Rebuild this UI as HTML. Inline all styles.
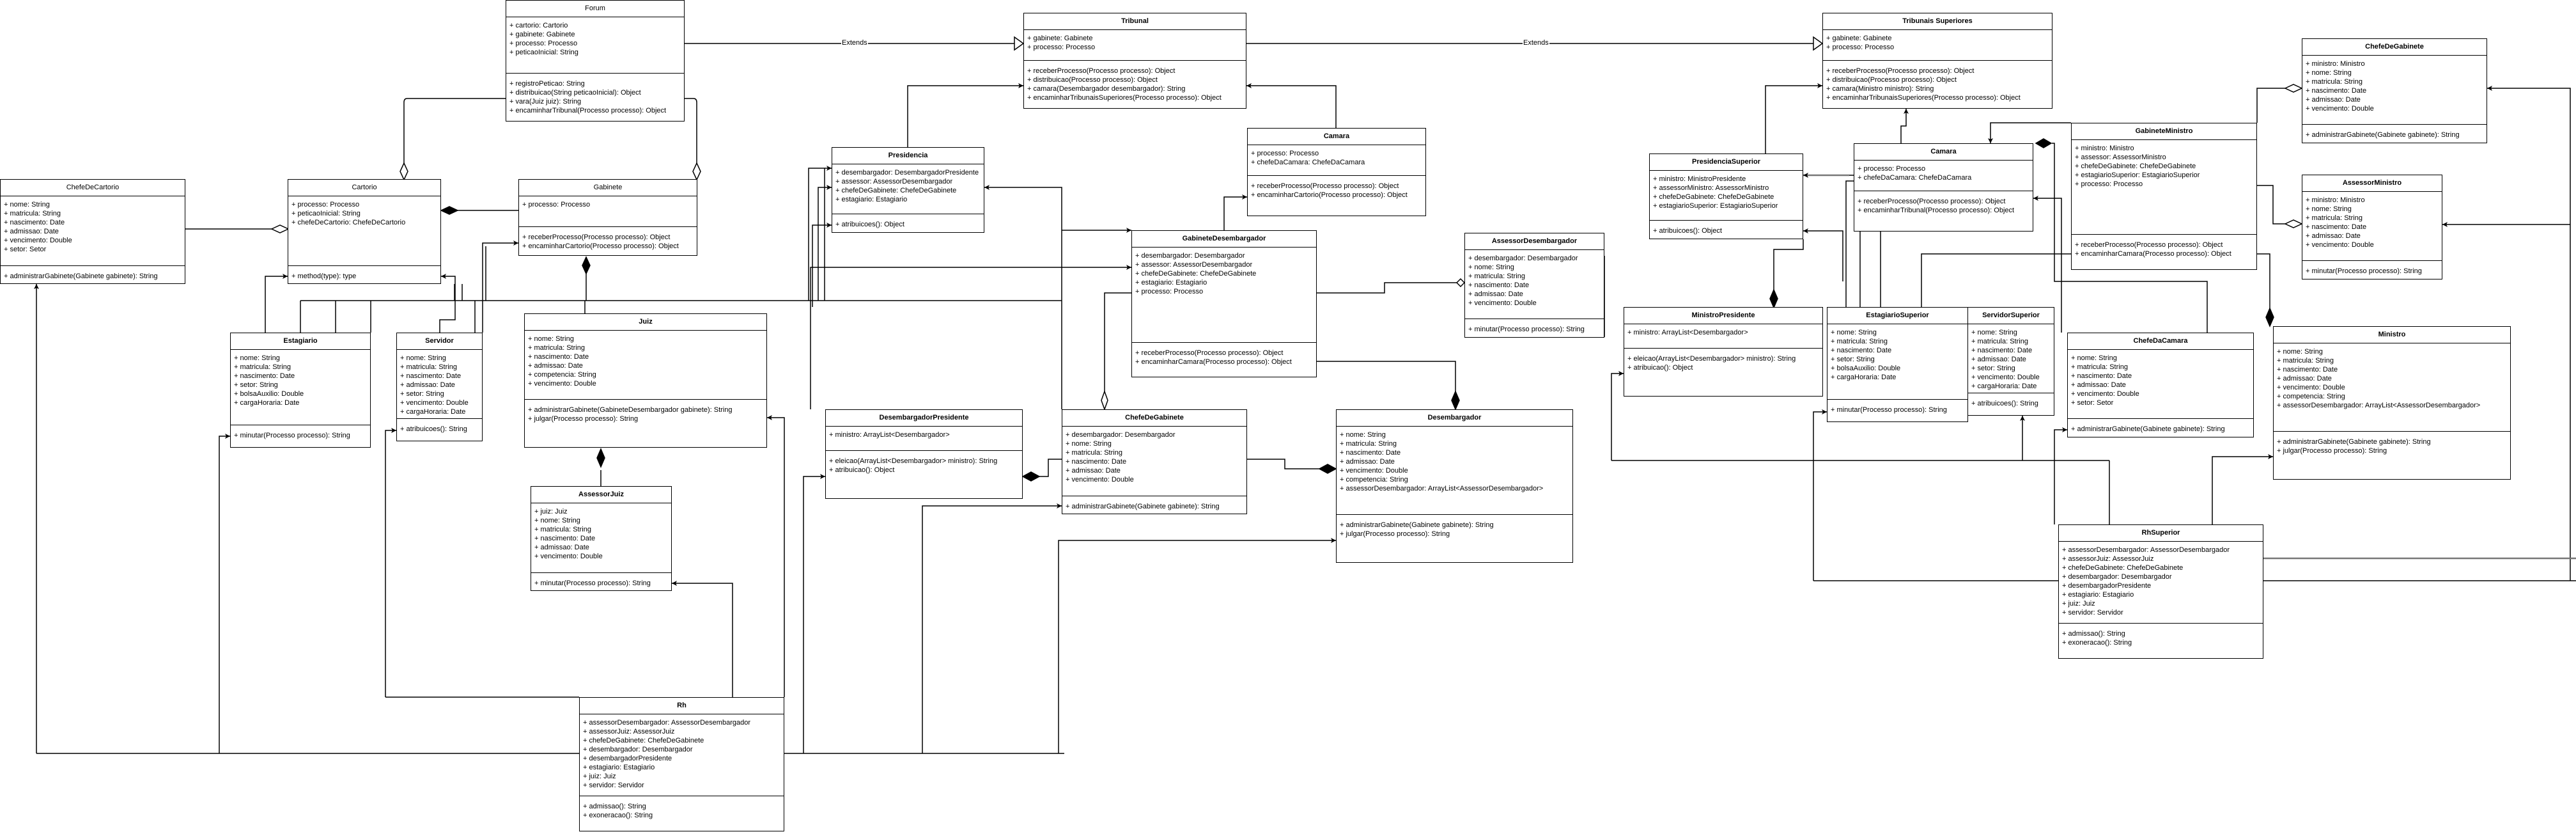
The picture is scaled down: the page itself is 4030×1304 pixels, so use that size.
<!DOCTYPE html>
<html><head><meta charset="utf-8">
<style>
body{margin:0;width:4030px;height:1304px;background:#fff;position:relative;overflow:hidden}
svg{position:absolute;left:0;top:0}
.b{position:absolute;border:1.5px solid #000;background:#fff;box-sizing:border-box;font:11px/14px "Liberation Sans",Arial,sans-serif;color:#000;white-space:nowrap;overflow:hidden}
.h{height:26px;box-sizing:border-box;border-bottom:1.5px solid #000;text-align:center;line-height:25px;font-weight:bold}
.n{font-weight:normal}
.a{border-bottom:1.5px solid #000;padding:6px 0 0 5px;box-sizing:border-box}
.m{padding:9px 0 0 5px}
.lbl{position:absolute;font:11px "Liberation Sans",sans-serif;background:#fff;padding:0 1px}
</style></head><body>
<svg width="4030" height="1304" viewBox="0 0 4030 1304">
<defs>
<marker id="ar" markerWidth="10" markerHeight="10" refX="8" refY="4" orient="auto" markerUnits="userSpaceOnUse"><path d="M0,0 L8,4 L0,8 L2,4 z" fill="#000"/></marker>
</defs>
<g fill="none" stroke="#000" stroke-width="1.5">
<!-- extends -->
<path d="M1071,68 H1587"/><polygon points="1587,58 1601,68 1587,78" fill="#fff"/>
<path d="M1950,68 H2837"/><polygon points="2837,58 2851,68 2837,78" fill="#fff"/>
<!-- forum aggregations -->
<path d="M791,154 H637 Q632,154 632,160 V255"/>
<path d="M1071,154 H1085 Q1090,154 1090,160 V255"/>
<!-- chefe cartorio -->
<path d="M290,358 H425"/>
<!-- gabinete cartorio -->
<path d="M811,329 H715"/>
<!-- gabinete down to juiz -->
<path d="M917,428 V470"/><path d="M915,470 V490"/>
<!-- bus -->
<path d="M470,470 H1661"/>
<path d="M470,470 V520 M525,470 V520 M580,470 V520 M755,470 V520 M743,470 V520"/>
<path d="M415,520 V432 H450" marker-end="url(#ar)"/>
<path d="M688,520 V500 H712 V432 H690" marker-end="url(#ar)"/>
<path d="M755,470 V380 H811" marker-end="url(#ar)"/>
<path d="M760,470 V385"/>
<path d="M711,470 V444 M723,470 V444"/>
<!-- presidencia connections -->
<path d="M1661,640 V293 H1540" marker-end="url(#ar)"/>
<path d="M1661,360 H1770" marker-end="url(#ar)"/>
<path d="M1268,640 V418 H1770" marker-end="url(#ar)"/>
<path d="M1265,470 V263 H1301" marker-end="url(#ar)"/>
<path d="M1280,470 V293 H1301" marker-end="url(#ar)"/>
<path d="M1271,480 V352 H1301" marker-end="url(#ar)"/>
<path d="M1290,470 V263"/>
<path d="M1420,230 V134 H1601" marker-end="url(#ar)"/>
<path d="M2090,200 V134 H1950" marker-end="url(#ar)"/>
<path d="M1915,360 V308 H1951" marker-end="url(#ar)"/>
<path d="M2060,458 H2166 V442 H2279"/>
<path d="M2060,565 H2277 V614"/>
<path d="M1770,458 H1728 V614"/>
<path d="M1661,718 H1640 V745 H1626"/>
<path d="M1951,718 H2010 V733 H2064"/>
<!-- juiz / assessor juiz -->
<path d="M940,735 V760"/>
<path d="M1227,1090 V653 H1200" marker-end="url(#ar)"/>
<path d="M1146,1090 V912 H1051" marker-end="url(#ar)"/>
<!-- bottom bus -->
<path d="M57,1178 H906 M1227,1178 H1665"/>
<path d="M57,1178 V444" marker-end="url(#ar)"/>
<path d="M343,1178 V682 H360" marker-end="url(#ar)"/>
<path d="M603,1090 V673 H620" marker-end="url(#ar)"/>
<path d="M603,1090 H906"/>
<path d="M1257,1178 V745 H1291" marker-end="url(#ar)"/>
<path d="M1443,1178 V791 H1661" marker-end="url(#ar)"/>
<path d="M1656,1178 V845 H2090" marker-end="url(#ar)"/>
<!-- superior -->
<path d="M2762,240 V134 H2851" marker-end="url(#ar)"/>
<path d="M2974,224 V197 H2982 V170" marker-end="url(#ar)"/>
<path d="M2893,274 H2821" stroke="#777" stroke-width="2.5" marker-end="url(#ar)"/>
<path d="M2893,274 H2900 M2883,440 V361 H2821" marker-end="url(#ar)"/>
<path d="M2821,374 V390 H2775 V453"/>
<path d="M3240,192 H3114 V224" marker-end="url(#ar)"/>
<path d="M3210,224 H3214 V440 H3453 V520"/>
<path d="M3531,192 V138 H3575"/>
<path d="M3531,290 H3556 V350 H3575"/>
<path d="M3531,397 H3551 V483"/>
<path d="M4021,908 V138 H3891" marker-end="url(#ar)"/>
<path d="M4021,351 H3821" marker-end="url(#ar)"/>
<path d="M3240,397 H3006 V480"/>
<path d="M3225,520 V310 H3181" marker-end="url(#ar)"/>
<path d="M2888,480 V283 H2900"/>
<path d="M2910,480 V330 H2942 V480"/>
<path d="M2521,720 V584 H2540" marker-end="url(#ar)"/>
<path d="M2521,720 H3300"/>
<path d="M3164,720 V650" marker-end="url(#ar)"/>
<path d="M3214,820 V672 H3234" marker-end="url(#ar)"/>
<path d="M3300,720 V820"/>
<path d="M2837,908 V644 H2858" marker-end="url(#ar)"/>
<path d="M2837,908 H3220 M3541,908 H4030"/>
<path d="M3541,873 H4030" stroke="#777" stroke-width="2.5"/>
<path d="M3461,820 V714 H3556" marker-end="url(#ar)"/>
<path d="M2510,400 V527 M2500,498 H2510"/>
</g>
<!-- diamonds -->
<g stroke="#000" stroke-width="1.5">
<polygon points="632,255 638,268 632,281 626,268" fill="#fff"/>
<polygon points="1090,255 1096,268 1090,281 1084,268" fill="#fff"/>
<polygon points="425,358 438,352 451,358 438,364" fill="#fff"/>
<polygon points="690,329 703,323 716,329 703,335" fill="#000"/>
<polygon points="917,402 923,415 917,428 911,415" fill="#000"/>
<polygon points="940,702 946,716 940,730 934,716" fill="#000"/>
<polygon points="2279,442 2285,436 2291,442 2285,448" fill="#fff"/>
<polygon points="2277,612 2283,626 2277,640 2271,626" fill="#000"/>
<polygon points="1728,612 1733,626 1728,640 1723,626" fill="#fff"/>
<polygon points="1600,745 1613,738 1626,745 1613,752" fill="#000"/>
<polygon points="2064,733 2077,726 2090,733 2077,740" fill="#000"/>
<polygon points="2775,453 2781,467 2775,481 2769,467" fill="#000"/>
<polygon points="3185,224 3197,217 3209,224 3197,231" fill="#000"/>
<polygon points="3575,138 3588,132 3601,138 3588,144" fill="#fff"/>
<polygon points="3575,350 3588,344 3601,350 3588,356" fill="#fff"/>
<polygon points="3551,482 3557,496 3551,510 3545,496" fill="#000"/>
</g>
</svg>
<div class="lbl" style="left:1316px;top:61px">Extends</div>
<div class="lbl" style="left:2382px;top:61px">Extends</div>

<div class="b" style="left:791px;top:0;width:280px;height:190px"><div class="h n">Forum</div><div class="a" style="height:88px">+ cartorio: Cartorio<br>+ gabinete: Gabinete<br>+ processo: Processo<br>+ peticaoInicial: String</div><div class="m">+ registroPeticao: String<br>+ distribuicao(String peticaoInicial): Object<br>+ vara(Juiz juiz): String<br>+ encaminharTribunal(Processo processo): Object</div></div>

<div class="b" style="left:0;top:280px;width:290px;height:164px"><div class="h n">ChefeDeCartorio</div><div class="a" style="height:109px">+ nome: String<br>+ matricula: String<br>+ nascimento: Date<br>+ admissao: Date<br>+ vencimento: Double<br>+ setor: Setor</div><div class="m">+ administrarGabinete(Gabinete gabinete): String</div></div>

<div class="b" style="left:450px;top:280px;width:240px;height:164px"><div class="h n">Cartorio</div><div class="a" style="height:109px">+ processo: Processo<br>+ peticaoInicial: String<br>+ chefeDeCartorio: ChefeDeCartorio</div><div class="m">+ method(type): type</div></div>

<div class="b" style="left:811px;top:280px;width:280px;height:120px"><div class="h n">Gabinete</div><div class="a" style="height:48px">+ processo: Processo</div><div class="m">+ receberProcesso(Processo processo): Object<br>+ encaminharCartorio(Processo processo): Object</div></div>

<div class="b" style="left:1601px;top:20px;width:349px;height:150px"><div class="h">Tribunal</div><div class="a" style="height:48px">+ gabinete: Gabinete<br>+ processo: Processo</div><div class="m">+ receberProcesso(Processo processo): Object<br>+ distribuicao(Processo processo): Object<br>+ camara(Desembargador desembargador): String<br>+ encaminharTribunaisSuperiores(Processo processo): Object</div></div>

<div class="b" style="left:1301px;top:230px;width:239px;height:134px"><div class="h">Presidencia</div><div class="a" style="height:78px">+ desembargador: DesembargadorPresidente<br>+ assessor: AssessorDesembargador<br>+ chefeDeGabinete: ChefeDeGabinete<br>+ estagiario: Estagiario</div><div class="m">+ atribuicoes(): Object</div></div>

<div class="b" style="left:1951px;top:200px;width:280px;height:138px"><div class="h">Camara</div><div class="a" style="height:48px">+ processo: Processo<br>+ chefeDaCamara: ChefeDaCamara</div><div class="m">+ receberProcesso(Processo processo): Object<br>+ encaminharCartorio(Processo processo): Object</div></div>

<div class="b" style="left:1770px;top:360px;width:290px;height:230px"><div class="h">GabineteDesembargador</div><div class="a" style="height:149px">+ desembargador: Desembargador<br>+ assessor: AssessorDesembargador<br>+ chefeDeGabinete: ChefeDeGabinete<br>+ estagiario: Estagiario<br>+ processo: Processo</div><div class="m">+ receberProcesso(Processo processo): Object<br>+ encaminharCamara(Processo processo): Object</div></div>

<div class="b" style="left:2291px;top:364px;width:219px;height:164px"><div class="h">AssessorDesembargador</div><div class="a" style="height:108px">+ desembargador: Desembargador<br>+ nome: String<br>+ matricula: String<br>+ nascimento: Date<br>+ admissao: Date<br>+ vencimento: Double</div><div class="m">+ minutar(Processo processo): String</div></div>

<div class="b" style="left:2851px;top:20px;width:360px;height:150px"><div class="h">Tribunais Superiores</div><div class="a" style="height:48px">+ gabinete: Gabinete<br>+ processo: Processo</div><div class="m">+ receberProcesso(Processo processo): Object<br>+ distribuicao(Processo processo): Object<br>+ camara(Ministro ministro): String<br>+ encaminharTribunaisSuperiores(Processo processo): Object</div></div>

<div class="b" style="left:2580px;top:240px;width:241px;height:134px"><div class="h">PresidenciaSuperior</div><div class="a" style="height:78px">+ ministro: MinistroPresidente<br>+ assessorMinistro: AssessorMinistro<br>+ chefeDeGabinete: ChefeDeGabinete<br>+ estagiarioSuperior: EstagiarioSuperior</div><div class="m">+ atribuicoes(): Object</div></div>

<div class="b" style="left:2900px;top:224px;width:281px;height:138px"><div class="h">Camara</div><div class="a" style="height:48px">+ processo: Processo<br>+ chefeDaCamara: ChefeDaCamara</div><div class="m">+ receberProcesso(Processo processo): Object<br>+ encaminharTribunal(Processo processo): Object</div></div>

<div class="b" style="left:3240px;top:192px;width:291px;height:230px"><div class="h">GabineteMinistro</div><div class="a" style="height:148px">+ ministro: Ministro<br>+ assessor: AssessorMinistro<br>+ chefeDeGabinete: ChefeDeGabinete<br>+ estagiarioSuperior: EstagiarioSuperior<br>+ processo: Processo</div><div class="m">+ receberProcesso(Processo processo): Object<br>+ encaminharCamara(Processo processo): Object</div></div>

<div class="b" style="left:3601px;top:60px;width:290px;height:164px"><div class="h">ChefeDeGabinete</div><div class="a" style="height:108px">+ ministro: Ministro<br>+ nome: String<br>+ matricula: String<br>+ nascimento: Date<br>+ admissao: Date<br>+ vencimento: Double</div><div class="m">+ administrarGabinete(Gabinete gabinete): String</div></div>

<div class="b" style="left:3601px;top:273px;width:220px;height:164px"><div class="h">AssessorMinistro</div><div class="a" style="height:108px">+ ministro: Ministro<br>+ nome: String<br>+ matricula: String<br>+ nascimento: Date<br>+ admissao: Date<br>+ vencimento: Double</div><div class="m">+ minutar(Processo processo): String</div></div>

<div class="b" style="left:360px;top:520px;width:220px;height:180px"><div class="h">Estagiario</div><div class="a" style="height:118px">+ nome: String<br>+ matricula: String<br>+ nascimento: Date<br>+ setor: String<br>+ bolsaAuxilio: Double<br>+ cargaHoraria: Date</div><div class="m">+ minutar(Processo processo): String</div></div>

<div class="b" style="left:620px;top:520px;width:135px;height:170px"><div class="h">Servidor</div><div class="a" style="height:108px">+ nome: String<br>+ matricula: String<br>+ nascimento: Date<br>+ admissao: Date<br>+ setor: String<br>+ vencimento: Double<br>+ cargaHoraria: Date</div><div class="m">+ atribuicoes(): String</div></div>

<div class="b" style="left:820px;top:490px;width:380px;height:210px"><div class="h">Juiz</div><div class="a" style="height:108px">+ nome: String<br>+ matricula: String<br>+ nascimento: Date<br>+ admissao: Date<br>+ competencia: String<br>+ vencimento: Double</div><div class="m">+ administrarGabinete(GabineteDesembargador gabinete): String<br>+ julgar(Processo processo): String</div></div>

<div class="b" style="left:830px;top:760px;width:221px;height:164px"><div class="h">AssessorJuiz</div><div class="a" style="height:109px">+ juiz: Juiz<br>+ nome: String<br>+ matricula: String<br>+ nascimento: Date<br>+ admissao: Date<br>+ vencimento: Double</div><div class="m">+ minutar(Processo processo): String</div></div>

<div class="b" style="left:1291px;top:640px;width:309px;height:140px"><div class="h">DesembargadorPresidente</div><div class="a" style="height:38px">+ ministro: ArrayList&lt;Desembargador&gt;</div><div class="m">+ eleicao(ArrayList&lt;Desembargador&gt; ministro): String<br>+ atribuicao(): Object</div></div>

<div class="b" style="left:1661px;top:640px;width:290px;height:164px"><div class="h">ChefeDeGabinete</div><div class="a" style="height:109px">+ desembargador: Desembargador<br>+ nome: String<br>+ matricula: String<br>+ nascimento: Date<br>+ admissao: Date<br>+ vencimento: Double</div><div class="m">+ administrarGabinete(Gabinete gabinete): String</div></div>

<div class="b" style="left:2090px;top:640px;width:371px;height:240px"><div class="h">Desembargador</div><div class="a" style="height:138px">+ nome: String<br>+ matricula: String<br>+ nascimento: Date<br>+ admissao: Date<br>+ vencimento: Double<br>+ competencia: String<br>+ assessorDesembargador: ArrayList&lt;AssessorDesembargador&gt;</div><div class="m">+ administrarGabinete(Gabinete gabinete): String<br>+ julgar(Processo processo): String</div></div>

<div class="b" style="left:2540px;top:480px;width:312px;height:140px"><div class="h">MinistroPresidente</div><div class="a" style="height:38px">+ ministro: ArrayList&lt;Desembargador&gt;</div><div class="m">+ eleicao(ArrayList&lt;Desembargador&gt; ministro): String<br>+ atribuicao(): Object</div></div>

<div class="b" style="left:2858px;top:480px;width:221px;height:180px"><div class="h">EstagiarioSuperior</div><div class="a" style="height:118px">+ nome: String<br>+ matricula: String<br>+ nascimento: Date<br>+ setor: String<br>+ bolsaAuxilio: Double<br>+ cargaHoraria: Date</div><div class="m">+ minutar(Processo processo): String</div></div>

<div class="b" style="left:3078px;top:480px;width:136px;height:170px"><div class="h">ServidorSuperior</div><div class="a" style="height:108px">+ nome: String<br>+ matricula: String<br>+ nascimento: Date<br>+ admissao: Date<br>+ setor: String<br>+ vencimento: Double<br>+ cargaHoraria: Date</div><div class="m">+ atribuicoes(): String</div></div>

<div class="b" style="left:3234px;top:520px;width:292px;height:164px"><div class="h">ChefeDaCamara</div><div class="a" style="height:108px">+ nome: String<br>+ matricula: String<br>+ nascimento: Date<br>+ admissao: Date<br>+ vencimento: Double<br>+ setor: Setor</div><div class="m">+ administrarGabinete(Gabinete gabinete): String</div></div>

<div class="b" style="left:3556px;top:510px;width:372px;height:240px"><div class="h">Ministro</div><div class="a" style="height:138px">+ nome: String<br>+ matricula: String<br>+ nascimento: Date<br>+ admissao: Date<br>+ vencimento: Double<br>+ competencia: String<br>+ assessorDesembargador: ArrayList&lt;AssessorDesembargador&gt;</div><div class="m">+ administrarGabinete(Gabinete gabinete): String<br>+ julgar(Processo processo): String</div></div>

<div class="b" style="left:3220px;top:820px;width:321px;height:210px"><div class="h">RhSuperior</div><div class="a" style="height:128px">+ assessorDesembargador: AssessorDesembargador<br>+ assessorJuiz: AssessorJuiz<br>+ chefeDeGabinete: ChefeDeGabinete<br>+ desembargador: Desembargador<br>+ desembargadorPresidente<br>+ estagiario: Estagiario<br>+ juiz: Juiz<br>+ servidor: Servidor</div><div class="m">+ admissao(): String<br>+ exoneracao(): String</div></div>

<div class="b" style="left:906px;top:1090px;width:321px;height:210px"><div class="h">Rh</div><div class="a" style="height:128px">+ assessorDesembargador: AssessorDesembargador<br>+ assessorJuiz: AssessorJuiz<br>+ chefeDeGabinete: ChefeDeGabinete<br>+ desembargador: Desembargador<br>+ desembargadorPresidente<br>+ estagiario: Estagiario<br>+ juiz: Juiz<br>+ servidor: Servidor</div><div class="m">+ admissao(): String<br>+ exoneracao(): String</div></div>
</body></html>
